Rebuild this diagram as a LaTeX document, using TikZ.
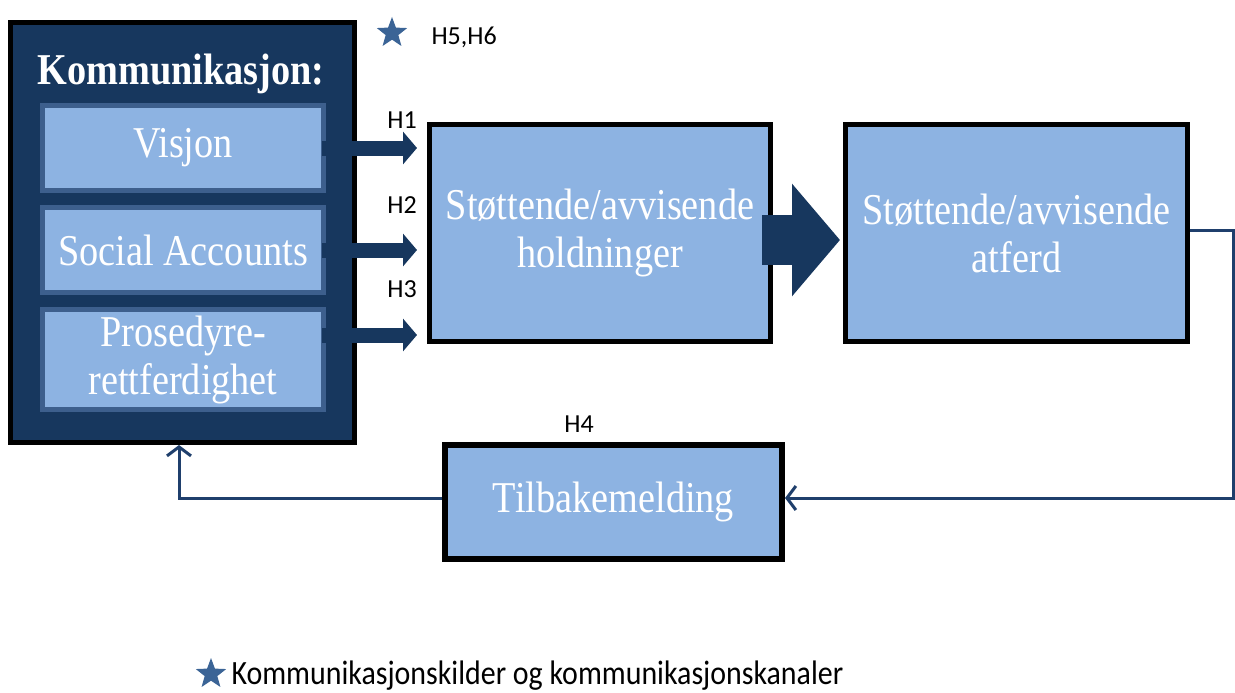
\documentclass[tikz,border=0pt]{standalone}
\usepackage{fontspec}
\setmainfont{Liberation Serif}[FakeStretch=0.87]
\newfontfamily\labfont{Carlito}
\newfontfamily\legfont{Carlito}[FakeStretch=0.88]
\usetikzlibrary{arrows.meta,shapes.geometric,calc}
\definecolor{navy}{HTML}{17375E}
\definecolor{lightb}{HTML}{8DB3E2}
\definecolor{midb}{HTML}{3D5F8D}
\definecolor{linec}{HTML}{1F3F6C}
\definecolor{starc}{HTML}{3B6496}
\begin{document}
\begin{tikzpicture}[x=1pt,y=-1pt,
  boxtext/.style={font=\fontsize{44}{48}\selectfont, text=white, align=center},
  bigbox/.style={draw=black, line width=5pt, fill=lightb, inner sep=0pt, boxtext},
  innerbox/.style={draw=midb, line width=5pt, fill=lightb, inner sep=0pt, minimum width=281pt, boxtext},
  fat/.style={draw=navy, line width=15pt, -{Triangle[length=14pt,width=32pt]}},
  fb/.style={draw=linec, line width=3pt, -{Straight Barb[length=9pt,width=24pt]}},
  hlab/.style={font=\labfont\fontsize{26}{30}\selectfont, text=black},
  starnode/.style={star, star points=5, star point ratio=2.4, fill=starc, minimum size=32pt, inner sep=0pt}]
\useasboundingbox (0,0) rectangle (1235,693);
\fill[white] (0,0) rectangle (1235,693);
% outer communication box
\node (komm) [draw=black, fill=navy, line width=5pt, minimum width=344pt, minimum height=420pt, inner sep=0pt] at (182.5,232.5) {};
\node (title) at (181,74) [font=\bfseries\fontsize{44}{48}\selectfont, text=white] {Kommunikasjon:};
\node (vis) [innerbox, minimum height=85pt] at (183,148) {Visjon};
\node (soc) [innerbox, minimum height=85pt] at (183,250) {Social Accounts};
\node (pros) [innerbox, minimum height=100pt] at (183,359.5) {Prosedyre-\\rettferdighet};
% main boxes
\node (hold) [bigbox, minimum width=341pt, minimum height=217pt] at (600,233) {Støttende/avvisende\\holdninger};
\node (atf) [bigbox, minimum width=342pt, minimum height=217pt] at (1016.5,233) {Støttende/avvisende\\atferd};
\node (tilb) [bigbox, line width=6pt, minimum width=337pt, minimum height=114pt] at (613.5,502) {Tilbakemelding};
% coordinates
\coordinate (tipx) at (417,0);
\coordinate (h3y) at (0,335);
\coordinate (ay) at (0,240);
\coordinate (c1) at (1233,230);
\coordinate (c2) at (1233,498);
\coordinate (c3) at (179,498);
% fat arrows
\draw[fat] ([xshift=-4pt]vis.east) -- (vis.east -| tipx);
\draw[fat] ([xshift=-4pt]soc.east) -- (soc.east -| tipx);
\draw[fat] ([xshift=-4pt]pros.east |- h3y) -- (tipx |- h3y);
\draw[draw=navy, line width=50pt, -{Triangle[length=48pt,width=110pt]}] ([xshift=-11pt]hold.east |- ay) -- ([xshift=-3pt]atf.west |- ay);
% feedback loop
\draw[fb] ([yshift=3pt]atf.east) -- (c1) -- (c2) -- (tilb.east |- c2);
\draw[fb] (tilb.west |- c2) -- (c3) -- (komm.south -| c3);
% labels
\node[hlab] (h1) at (402,120) {H1};
\node[hlab] (h2) at (402,205) {H2};
\node[hlab] (h3) at (402,289) {H3};
\node[hlab] (h4) at (579,424) {H4};
\node[starnode] (s1) at (392,33) {};
\node[hlab, anchor=west] (h56) at (428,37) {H5,H6};
\node[starnode] (s2) at (211,674) {};
\node[anchor=west, font=\legfont\fontsize{34}{38}\selectfont] (legend) at (228,676) {Kommunikasjonskilder og kommunikasjonskanaler};
\end{tikzpicture}
\end{document}
